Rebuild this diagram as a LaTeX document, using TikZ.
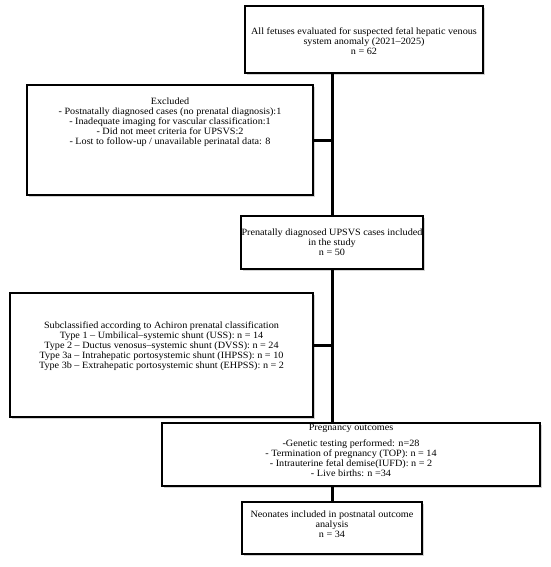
\documentclass[tikz,border=0pt]{standalone}
\usepackage{fontspec}
\setmainfont[FakeStretch=1.06]{Liberation Serif}
\usetikzlibrary{shadows}
\begin{document}
\begin{tikzpicture}[x=1pt,y=-1pt,
  box/.style={draw=black, line width=1.8pt, fill=white, inner sep=0pt,
    drop shadow={shadow xshift=2pt, shadow yshift=-2pt, opacity=0.35, fill=gray}},
  txt/.style={align=center, inner sep=0pt, font=\fontsize{9.6}{10.1}\selectfont},
  conn/.style={draw=black, line width=3pt}]
\useasboundingbox (0,0) rectangle (550,567);
% boxes
\node[box, minimum width=238pt, minimum height=67pt] (b1) at (364,39.5) {};
\node[box, minimum width=286pt, minimum height=110pt] (excl) at (170,140) {};
\node[box, minimum width=182pt, minimum height=53pt] (b3) at (332,242.5) {};
\node[box, minimum width=303pt, minimum height=124pt] (sub) at (161.5,355) {};
\node[box, minimum width=378pt, minimum height=63pt] (preg) at (351,454.5) {};
\node[box, minimum width=180pt, minimum height=52pt] (neo) at (332,528) {};
% connectors
\coordinate (j1) at (b3.north |- b1.south);
\coordinate (j2) at (b3.north |- excl.east);
\coordinate (j3) at (b3.north |- 0,345);
\coordinate (j4) at (b3.north |- preg.north);
\coordinate (j5) at (b3.north |- preg.south);
\draw[conn] (j1) -- (b3.north);
\draw[conn] (excl.east) -- (j2);
\draw[conn] (b3.south) -- (j4);
\draw[conn] (sub.east |- j3) -- (j3);
\draw[conn] (j5) -- (neo.north);
% texts
\node[txt] (t1) at (364,41) {All fetuses evaluated for suspected fetal hepatic venous\\system anomaly (2021–2025)\\n = 62};
\node[txt] (t2) at (170,122) {Excluded\\- Postnatally diagnosed cases (no prenatal diagnosis):1\\- Inadequate imaging for vascular classification:1\\- Did not meet criteria for UPSVS:2\\- Lost to follow-up / unavailable perinatal data: 8};
\node[txt] (t3) at (332,242) {Prenatally diagnosed UPSVS cases included\\in the study\\n = 50};
\node[txt] (t4) at (161.5,346) {Subclassified according to Achiron prenatal classification\\Type 1 – Umbilical–systemic shunt (USS): n = 14\\Type 2 – Ductus venosus–systemic shunt (DVSS): n = 24\\Type 3a – Intrahepatic portosystemic shunt (IHPSS): n = 10\\Type 3b – Extrahepatic portosystemic shunt (EHPSS): n = 2};
\node[txt] (t5a) at (351,428.5) {Pregnancy outcomes};
\node[txt] (t5) at (351,458) {-Genetic testing performed: n=28\\- Termination of pregnancy (TOP): n = 14\\- Intrauterine fetal demise(IUFD): n = 2\\- Live births: n =34};
\node[txt] (t6) at (332,524) {Neonates included in postnatal outcome\\analysis\\n = 34};
\end{tikzpicture}
\end{document}
